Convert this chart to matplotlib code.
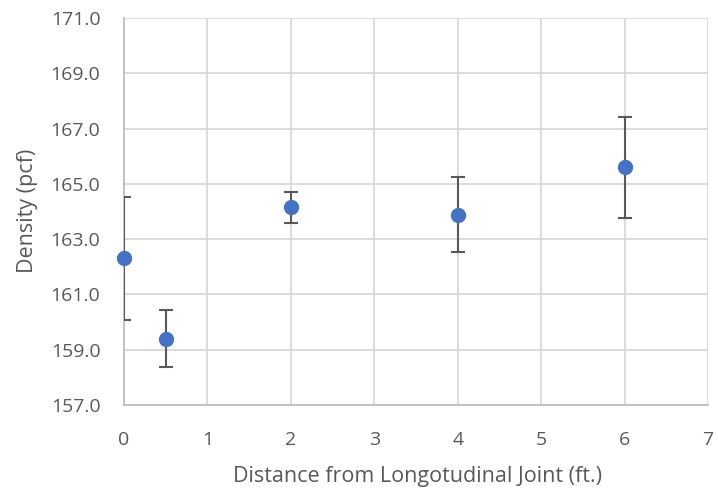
import matplotlib
matplotlib.use("Agg")
import matplotlib.pyplot as plt

x_vals = [0, 0.5, 2, 4, 6]
density = [162.31, 159.39, 164.15, 163.88, 165.60]
err = [2.22, 1.03, 0.57, 1.35, 1.83]

x_ticks = [0, 1, 2, 3, 4, 5, 6, 7]
y_ticks = [157, 159, 161, 163, 165, 167, 169, 171]

plt.rcParams['font.family'] = ['Open Sans', 'DejaVu Sans']

fig = plt.figure(figsize=(7.18, 4.93), dpi=100)
ax = fig.add_axes([124/718, 1-405/493, (708-124)/718, (405-18)/493])

ax.errorbar(x_vals, density, yerr=err, fmt='none', ecolor='#595959',
            elinewidth=1.5, capsize=5, capthick=1.5, zorder=3)
ax.plot(x_vals, density, 'o', color='#4472C4', markersize=10, zorder=4, clip_on=False)

ax.set_xlim(0, 7)
ax.set_ylim(157, 171)
ax.set_xticks(x_ticks)
ax.set_yticks(y_ticks)
ax.set_yticklabels([f"{v:.1f}" for v in y_ticks])
ax.grid(True, color='#D9D9D9', linewidth=1.3)
ax.set_axisbelow(True)
for s in ['top', 'right']:
    ax.spines[s].set_visible(False)
for s in ['left', 'bottom']:
    ax.spines[s].set_color('#BFBFBF')
    ax.spines[s].set_linewidth(1.3)
ax.tick_params(axis='both', length=0, labelsize=14, colors='#595959')
ax.tick_params(axis='y', pad=17)
ax.tick_params(axis='x', pad=19)
ax.set_xlabel('Distance from Longotudinal Joint (ft.)', fontsize=15.5, color='#595959')
ax.set_ylabel('Density (pcf)', fontsize=15.5, color='#595959')
ax.xaxis.set_label_coords(0.503, -0.186)
ax.xaxis.label.set_va('center')
ax.yaxis.set_label_coords(-0.166, 0.501)
ax.yaxis.label.set_va('center')

fig.savefig('out.png', dpi=100)
